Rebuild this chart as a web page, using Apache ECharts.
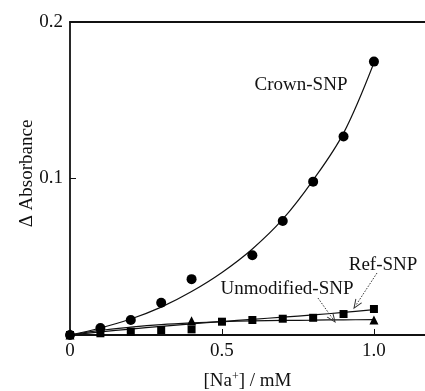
<!DOCTYPE html>
<html>
<head>
<meta charset="utf-8">
<script src="https://cdn.jsdelivr.net/npm/echarts@6/dist/echarts.min.js"></script>
<style>html,body{margin:0;padding:0;background:#fff}#c{width:425px;height:391px}</style>
</head>
<body>
<div id="c"></div>
<script>
// measured points
const crownX = [0, 0.1, 0.2, 0.3, 0.4, 0.6, 0.7, 0.8, 0.9, 1.0];
const crownY = [0, 0.0045, 0.0096, 0.0206, 0.0357, 0.051, 0.0728, 0.098, 0.1268, 0.1747];
const refX = [0, 0.1, 0.2, 0.3, 0.4, 0.5, 0.6, 0.7, 0.8, 0.9, 1.0];
const refY = [0, 0.0011, 0.0021, 0.0032, 0.0036, 0.0085, 0.0096, 0.0104, 0.0110, 0.0134, 0.0166];
const unmodX = [0, 0.4, 1.0];
const unmodY = [0, 0.0091, 0.0096];
// fitted curves
const fitX = [0, 0.1, 0.2, 0.3, 0.4, 0.5, 0.6, 0.7, 0.8, 0.9, 1.0];
const crownFitY = [0, 0.0045, 0.0102, 0.0178, 0.0278, 0.040, 0.055, 0.074, 0.099, 0.129, 0.174];
const refFitY = [0, 0.0020, 0.0038, 0.0055, 0.0071, 0.0086, 0.0100, 0.0114, 0.0128, 0.0144, 0.0162];
const unmodFitY = [0, 0.0030, 0.0050, 0.0066, 0.0077, 0.0085, 0.0090, 0.0093, 0.0095, 0.0097, 0.0098];
// tick labels
const xTickLabels = {0: '0', 0.5: '0.5', 1: '1.0'};
const yTickLabels = {0.1: '0.1', 0.2: '0.2'};
// annotations
const labelNames = ['Crown-SNP', 'Ref-SNP', 'Unmodified-SNP'];
const labelPos = [[0.76, 0.1595], [1.03, 0.0447], [0.714, 0.0294]];
const arrowFrom = [[1.01, 0.0396], [0.816, 0.0236]];
const arrowTo = [[0.941, 0.0191], [0.865, 0.0102]];

const zip = (xs, ys) => xs.map((x, i) => [x, ys[i]]);
const FONT = 'Liberation Serif';
const INK = '#111';
const FS = 19;
const chevron = 'path://M5,0 L10,11 L8.6,11 L5,3 L1.4,11 L0,11 Z';

const chart = echarts.init(document.getElementById('c'), null, {renderer: 'canvas'});
chart.setOption({
  animation: false,
  backgroundColor: '#fff',
  grid: {left: 70, right: 0, top: 22, bottom: 56, containLabel: false, outerBoundsMode: 'none'},
  xAxis: [{
    type: 'value', min: 0, max: 1.168, interval: 0.5,
    name: '[Na{sup|+}] / mM', nameLocation: 'middle', nameGap: 36, nameMoveOverlap: false,
    nameTextStyle: {fontFamily: FONT, fontSize: FS, color: INK,
      rich: {sup: {fontFamily: FONT, fontSize: 12, color: INK, verticalAlign: 'top', padding: [0, 0, 9, 0]}}},
    axisLine: {show: true, lineStyle: {color: INK, width: 1.8}},
    axisTick: {show: true, inside: true, length: 6, lineStyle: {color: INK, width: 1}},
    splitLine: {show: false},
    axisLabel: {show: true, showMaxLabel: false, margin: 7, fontFamily: FONT, fontSize: FS, color: INK,
      formatter: v => (xTickLabels[v] !== undefined ? xTickLabels[v] : '')}
  }, {
    type: 'value', position: 'top', min: 0, max: 1.168,
    axisLine: {show: true, onZero: false, lineStyle: {color: INK, width: 1.8}},
    axisTick: {show: false}, axisLabel: {show: false}, splitLine: {show: false}
  }],
  yAxis: {
    type: 'value', min: 0, max: 0.2, interval: 0.1,
    name: 'Δ Absorbance', nameLocation: 'middle', nameGap: 33, nameMoveOverlap: false,
    nameTextStyle: {fontFamily: FONT, fontSize: FS, color: INK, padding: [0, 0, 0, 10]},
    axisLine: {show: true, lineStyle: {color: INK, width: 1.8}},
    axisTick: {show: true, inside: true, length: 6, lineStyle: {color: INK, width: 1}},
    splitLine: {show: false},
    axisLabel: {show: true, showMinLabel: false, margin: 7, fontFamily: FONT, fontSize: FS, color: INK,
      formatter: v => (yTickLabels[v] !== undefined ? yTickLabels[v] : '')}
  },
  series: [
    {type: 'line', data: zip(fitX, crownFitY), smooth: 0.35, symbol: 'none',
      lineStyle: {color: INK, width: 1.2}, z: 2,
      markPoint: {
        symbol: 'circle', symbolSize: 0, silent: true,
        label: {show: true, position: 'inside', fontFamily: FONT, fontSize: FS, color: INK,
          formatter: p => p.name},
        data: labelNames.map((n, i) => ({name: n, coord: labelPos[i]}))
      },
      markLine: {
        silent: true, symbol: ['none', chevron], symbolSize: [8, 10],
        lineStyle: {color: '#333', width: 1, type: [1.5, 1.5]},
        label: {show: false},
        data: arrowFrom.map((f, i) => [{coord: f}, {coord: arrowTo[i]}])
      }
    },
    {type: 'line', data: zip(fitX, refFitY), smooth: 0.35, symbol: 'none',
      lineStyle: {color: INK, width: 1.2}, z: 2},
    {type: 'line', data: zip(fitX, unmodFitY), smooth: 0.35, symbol: 'none',
      lineStyle: {color: INK, width: 1.2}, z: 2},
    {type: 'scatter', data: zip(unmodX, unmodY), symbol: 'triangle', symbolSize: 9,
      itemStyle: {color: '#000', opacity: 1}, z: 3},
    {type: 'scatter', data: zip(refX, refY), symbol: 'rect', symbolSize: 8,
      itemStyle: {color: '#000', opacity: 1}, z: 4},
    {type: 'scatter', data: zip(crownX, crownY), symbol: 'circle', symbolSize: 10,
      itemStyle: {color: '#000', opacity: 1}, z: 5}
  ]
});
</script>
</body>
</html>
